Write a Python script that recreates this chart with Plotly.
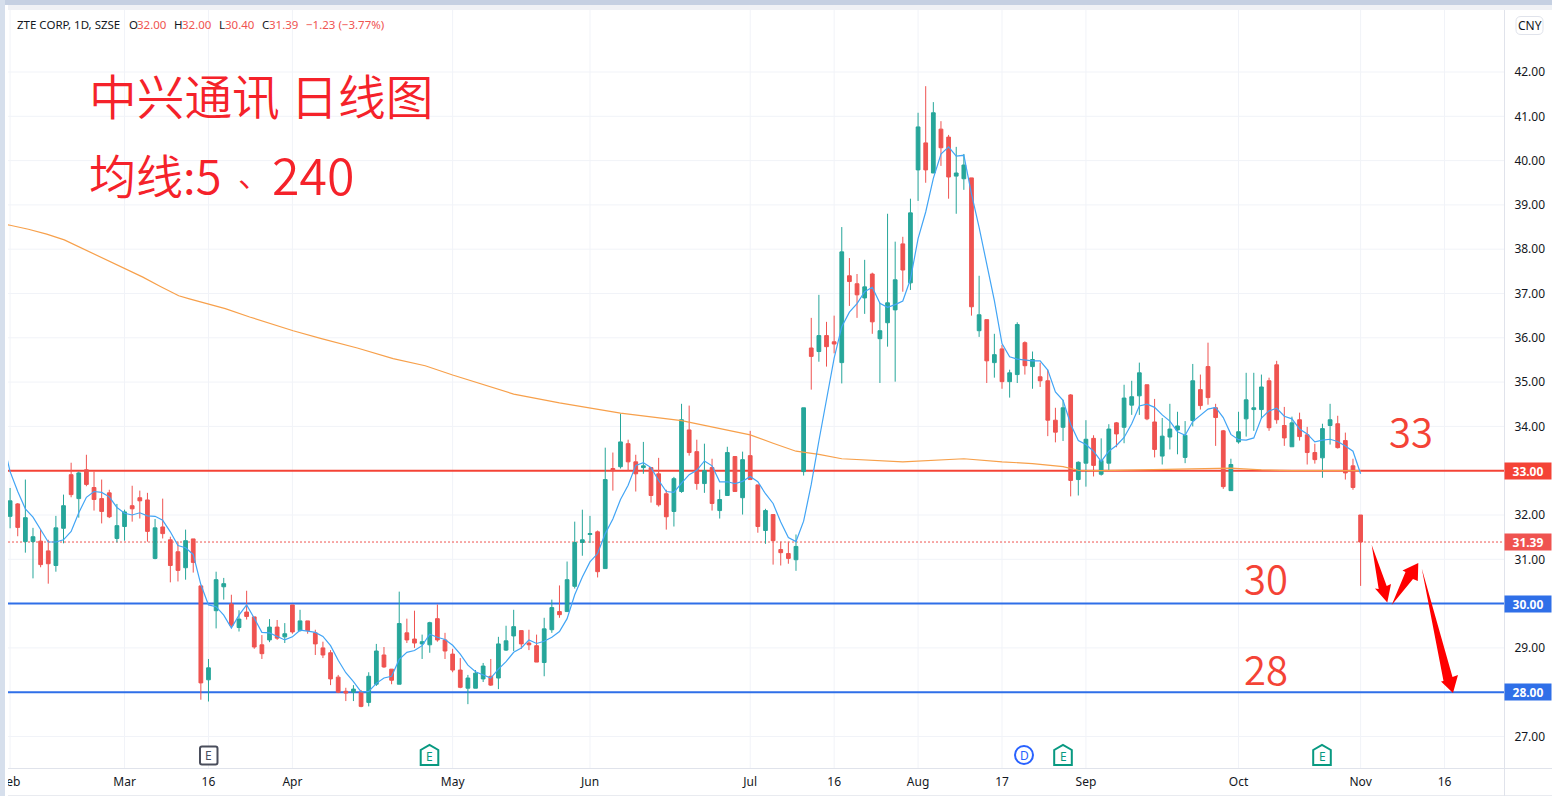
import plotly.graph_objects as go

W, H = 1552, 796
L, R, T, B = 8, 1504, 10, 769
X0, DX = 10.1, 7.63      # pixel of first candle, pixels per session
Y42, DY = 72.0, 44.3     # pixel of price 42, pixels per unit

opens = [31.97,32.25,31.40,31.40,31.41,31.19,30.86,31.70,32.91,32.37,
33.02,32.62,32.37,32.50,31.47,31.74,32.21,32.39,32.34,31.02,
31.73,31.44,31.17,30.81,31.46,30.40,28.28,29.84,30.38,29.99,
29.46,29.81,29.70,29.07,29.18,29.47,29.25,29.97,29.39,29.61,
29.34,29.00,28.89,28.34,28.02,28.00,28.00,27.77,28.18,28.84,
28.52,28.18,29.34,29.20,29.09,29.07,29.66,29.18,28.86,28.50,
28.09,28.09,28.30,28.36,28.32,28.95,29.27,29.39,29.11,29.05,
28.67,29.41,29.82,29.82,30.39,31.38,31.56,31.62,30.79,33.05,
33.09,33.61,33.20,33.07,33.07,32.93,32.48,32.08,32.53,33.92,
33.43,32.71,33.07,32.10,32.44,33.32,32.39,33.34,32.68,31.65,
32.01,31.22,31.13,30.99,32.98,35.77,35.69,36.05,35.91,35.44,
37.40,37.22,36.90,37.44,35.98,36.34,36.63,38.12,37.24,39.79,
40.40,39.72,40.71,40.53,39.65,39.59,39.61,36.16,36.41,35.44,
35.75,35.01,35.17,35.89,35.35,35.12,35.03,34.14,33.98,34.71,
32.80,33.17,33.73,32.92,33.17,34.08,33.98,34.48,34.69,34.94,
34.10,33.33,33.76,33.92,33.30,34.13,34.83,35.35,34.42,33.90,
32.55,33.65,34.17,34.38,34.38,35.03,35.39,34.02,33.54,34.15,
33.81,33.41,33.29,34.02,34.06,33.68,33.11,32.00]
highs = [32.61,32.27,32.80,31.71,31.67,31.44,31.98,32.46,33.18,32.98,
33.36,32.98,32.80,32.57,32.25,32.12,32.66,32.55,32.50,31.91,
32.37,31.51,31.40,31.67,31.46,30.40,28.75,30.72,30.58,30.20,
29.85,30.29,29.70,29.29,29.65,29.63,29.56,29.97,29.86,29.61,
29.41,29.14,28.95,28.39,28.10,28.16,28.05,28.45,29.09,29.02,
28.52,30.27,29.66,29.84,29.30,29.59,29.98,29.34,28.98,28.77,
28.39,28.50,28.66,28.75,29.25,29.50,29.86,29.39,29.41,29.30,
29.68,30.09,30.41,30.95,31.85,32.12,31.98,31.65,33.52,33.41,
34.29,33.70,33.36,33.65,33.07,33.29,32.57,32.86,34.51,34.47,
33.70,33.61,33.27,32.57,33.54,33.32,33.43,33.90,32.68,32.14,
32.01,31.40,31.40,31.56,34.42,36.45,36.97,36.36,36.50,38.50,
37.80,37.44,37.76,37.47,36.79,38.80,38.17,38.28,39.14,41.08,
41.68,41.32,40.89,40.58,40.31,40.15,39.61,37.40,36.41,36.09,
35.84,35.28,36.35,35.92,35.69,35.44,35.28,34.42,34.60,34.73,
33.21,34.14,33.80,33.73,34.05,34.10,34.94,35.03,35.44,34.94,
34.62,34.19,34.51,34.33,34.12,35.41,35.17,35.89,34.51,33.92,
33.27,34.33,35.21,35.21,35.17,35.10,35.48,34.44,34.22,34.31,
33.99,33.61,34.06,34.51,34.24,33.86,33.27,32.00]
lows = [31.70,31.52,31.15,30.57,30.82,30.45,30.72,31.36,32.40,31.94,
32.65,32.10,31.81,31.93,31.38,31.42,31.85,31.92,31.40,31.00,
31.47,30.48,30.50,30.54,30.70,27.83,27.79,29.44,30.09,29.47,
29.37,29.64,28.98,28.75,29.13,29.18,29.11,29.32,29.37,29.32,
28.84,28.77,28.16,27.98,27.80,27.80,27.66,27.68,28.14,28.55,
28.18,28.18,29.11,29.00,28.75,28.89,29.14,28.75,28.45,28.09,
27.73,28.09,28.23,28.14,28.07,28.93,28.93,28.98,28.95,28.68,
28.36,29.34,29.68,29.82,30.34,31.08,31.37,30.59,30.79,32.55,
33.05,33.00,32.53,32.93,32.28,32.19,31.67,31.74,32.50,33.34,
32.57,32.50,32.10,31.92,32.44,32.53,32.01,32.80,31.60,31.35,
30.88,30.86,30.90,30.74,32.89,34.83,35.46,35.35,35.65,34.97,
36.72,36.45,36.54,36.09,34.98,35.80,35.01,37.04,37.08,39.09,
39.50,39.72,39.88,39.14,38.80,39.34,36.50,36.02,34.98,35.10,
34.85,34.65,34.98,35.17,34.85,34.89,33.78,33.64,33.67,32.42,
32.44,32.64,32.87,32.89,33.01,33.53,33.62,34.26,34.26,34.14,
33.30,33.14,33.48,33.37,33.17,34.00,34.38,34.49,33.56,32.59,
32.55,33.61,33.77,33.90,34.17,33.90,34.06,33.56,33.54,33.68,
33.14,33.16,32.84,33.59,33.50,32.80,32.57,30.40]
closes = [32.32,31.72,31.94,31.51,30.88,30.90,31.71,32.21,32.46,32.95,
32.69,32.35,32.08,31.96,31.76,32.07,32.14,32.32,31.63,31.71,
31.58,30.86,30.75,31.42,30.93,28.21,28.55,30.54,30.45,29.51,
29.65,29.71,29.02,28.87,29.47,29.22,29.32,29.36,29.61,29.39,
29.09,28.84,28.30,28.00,27.98,28.07,27.68,28.36,28.93,28.57,
28.27,29.55,29.18,29.11,29.14,29.57,29.18,28.93,28.50,28.11,
28.32,28.43,28.59,28.16,29.09,29.16,29.48,29.09,29.07,28.68,
29.43,29.91,29.75,30.54,31.38,31.44,31.58,30.72,32.80,33.00,
33.65,33.20,32.93,33.11,32.44,32.23,31.96,32.82,34.15,33.41,
32.71,33.00,32.26,32.35,33.41,32.53,33.25,32.80,31.74,32.10,
31.42,31.15,31.02,31.29,34.42,35.58,36.05,35.80,35.86,37.94,
37.27,36.97,37.15,36.36,36.16,36.79,37.31,37.53,38.82,40.76,
39.79,41.08,40.29,39.63,39.72,39.90,36.70,36.52,35.48,35.62,
35.01,35.21,36.30,35.37,35.51,35.03,34.14,33.87,34.42,32.78,
33.19,33.71,33.12,33.23,33.94,33.83,34.64,34.67,35.21,34.17,
33.48,33.78,33.94,34.01,33.80,35.03,34.47,34.65,34.20,32.64,
33.14,33.88,34.60,34.42,34.89,33.97,34.15,33.74,34.08,33.77,
33.41,33.25,33.95,34.15,33.52,32.95,32.62,31.39]

ma5 = [32.98,32.53,32.14,31.95,31.67,31.39,31.39,31.44,31.63,32.05,
32.40,32.53,32.51,32.41,32.17,32.04,32.00,32.05,31.98,31.97,
31.88,31.62,31.31,31.26,31.11,30.43,29.97,29.93,29.74,29.45,
29.74,29.97,29.67,29.35,29.34,29.26,29.18,29.25,29.40,29.38,
29.35,29.26,29.05,28.72,28.44,28.24,28.01,28.02,28.20,28.32,
28.36,28.74,28.90,28.94,29.05,29.31,29.24,29.19,29.06,28.86,
28.61,28.46,28.39,28.32,28.52,28.69,28.90,29.00,29.18,29.10,
29.15,29.24,29.37,29.66,30.20,30.60,30.94,31.13,31.58,31.91,
32.35,32.67,33.12,33.18,33.07,32.78,32.53,32.51,32.72,32.91,
33.01,33.22,33.11,32.75,32.75,32.71,32.76,32.87,32.75,32.48,
32.26,31.84,31.49,31.40,31.86,32.69,33.67,34.63,35.54,36.25,
36.58,36.77,37.04,37.14,36.78,36.69,36.75,36.83,37.32,38.24,
38.84,39.60,40.15,40.31,40.10,40.12,39.25,38.49,37.66,36.84,
35.87,35.57,35.52,35.50,35.48,35.48,35.27,34.78,34.59,34.05,
33.68,33.59,33.44,33.21,33.44,33.57,33.75,34.06,34.46,34.50,
34.43,34.26,34.12,33.88,33.80,34.11,34.25,34.39,34.43,34.20,
33.82,33.70,33.69,33.74,34.19,34.35,34.41,34.23,34.17,33.94,
33.83,33.65,33.69,33.71,33.66,33.56,33.44,32.93]
ma5_before = 33.71  # value one session before the first visible candle

ma240_idx = [-1,0,2.4,4.8,7.1,9.4,12,15.1,17.4,19.7,22.1,23.5,26,28.2,31.4,34.2,37.1,40.8,45.5,50.2,54.4,58,61.4,66,72,
             80,88,97,100,103,106,109,117,125,130,134,138,140,143,149,156,160,164,168,175,177]
ma240_val = [38.57,38.54,38.45,38.34,38.21,38.02,37.82,37.55,37.37,37.16,36.95,36.88,36.76,36.66,36.47,36.31,36.16,35.98,35.77,35.53,35.37,35.16,34.97,34.73,34.53,
             34.30,34.13,33.81,33.62,33.44,33.37,33.27,33.20,33.27,33.20,33.16,33.09,33.01,33.00,33.02,33.05,33.06,33.02,33.00,33.00,33.00]

x_tick_idx = [0,15,26,37,58,76,97,108,119,130,141,161,177,188]
x_tick_txt = ["Feb","Mar","16","Apr","May","Jun","Jul","16","Aug","17","Sep","Oct","Nov","16"]
y_ticks = list(range(27,43))

level_33 = 33.0
level_30 = 30.0
level_28 = 28.0
last_close = 31.39

UP, DOWN = "#26a69a", "#ef5350"
RED_LINE, BLUE_LINE = "#f44336", "#2f6fe8"
GRID, EDGE = "#f1f3f8", "#e0e3eb"
TXT = "#131722"
UI = "Noto Sans"

def px(x): return (x - L) / (R - L)
def py(y): return (B - y) / (B - T)

def poly(points, **kw):
    d = "M " + " L ".join(f"{px(a):.5f},{py(b):.5f}" for a, b in points) + " Z"
    return dict(type="path", xref="paper", yref="paper", path=d, **kw)

def rounded(x0, y0, x1, y1, r, **kw):
    def P(a, b): return f"{px(a):.5f},{py(b):.5f}"
    d = (f"M {P(x0+r,y0)} L {P(x1-r,y0)} Q {P(x1,y0)} {P(x1,y0+r)} L {P(x1,y1-r)} Q {P(x1,y1)} {P(x1-r,y1)} "
         f"L {P(x0+r,y1)} Q {P(x0,y1)} {P(x0,y1-r)} L {P(x0,y0+r)} Q {P(x0,y0)} {P(x0+r,y0)} Z")
    return dict(type="path", xref="paper", yref="paper", path=d, **kw)

def rect(x0, y0, x1, y1, color, layer="above"):
    return dict(type="rect", xref="paper", yref="paper", x0=px(x0), x1=px(x1), y0=py(y0), y1=py(y1),
                fillcolor=color, line_width=0, layer=layer)

fig = go.Figure()
xs = list(range(len(closes)))
fig.add_trace(go.Candlestick(x=xs, open=opens, high=highs, low=lows, close=closes,
    increasing=dict(line=dict(color=UP, width=1), fillcolor=UP),
    decreasing=dict(line=dict(color=DOWN, width=1), fillcolor=DOWN),
    whiskerwidth=0, hoverinfo="skip", showlegend=False))
fig.add_trace(go.Scatter(x=ma240_idx, y=ma240_val, mode="lines", line=dict(color="#f7a04b", width=1.2),
    hoverinfo="skip", showlegend=False))
fig.add_trace(go.Scatter(x=[-1] + xs, y=[ma5_before] + ma5, mode="lines", line=dict(color="#42a5f5", width=1.2),
    hoverinfo="skip", showlegend=False))

shapes = []
for v in y_ticks:
    shapes.append(dict(type="line", xref="paper", yref="y", x0=0, x1=1, y0=v, y1=v,
                       line=dict(color=GRID, width=1), layer="below"))
for v in x_tick_idx:
    shapes.append(dict(type="line", xref="x", yref="paper", x0=v, x1=v, y0=0, y1=1,
                       line=dict(color=GRID, width=1), layer="below"))
for lvl, col in [(level_33, RED_LINE), (level_30, BLUE_LINE), (level_28, BLUE_LINE)]:
    shapes.append(dict(type="line", xref="paper", yref="y", x0=0, x1=1, y0=lvl, y1=lvl,
                       line=dict(color=col, width=2), layer="below"))
shapes.append(dict(type="line", xref="paper", yref="y", x0=0, x1=1, y0=last_close, y1=last_close,
                   line=dict(color=DOWN, width=1, dash="2px,2px"), layer="below"))

# window chrome
shapes += [rect(0, 0, W, 5, "#c5d0e2"), rect(0, 5, W, 10, "#eff1f5"), rect(0, 0, 5, H, "#d6dfec"),
           rect(5, 5, 8, H, "#ffffff"), rect(8, 795, W, 796, "#e9ebf0"),
           rect(8, 768, W, 769, EDGE), rect(1504, 10, 1505, 796, EDGE)]

RED_ARROW = "#ff0000"
arrows = [
    [(1371.7,545), (1386.7,586), (1391,584), (1387.3,602.5), (1375,588.5), (1378.7,589)],
    [(1391.7,605), (1413,579), (1417.8,581), (1418.3,563), (1402.5,570.5), (1405.5,572)],
    [(1421.7,568.3), (1452.5,677), (1458,675), (1453,693), (1441,681.5), (1443.5,681)],
]
for a in arrows:
    shapes.append(poly(a, fillcolor=RED_ARROW, line_width=0, layer="above"))

# event markers
GREEN_MK, GREY_MK, BLUE_MK = "#089981", "#4a4e5c", "#2962ff"
def house(cx):
    return poly([(cx-8.8,765), (cx-8.8,750), (cx,745), (cx+8.8,750), (cx+8.8,765)],
                fillcolor="#ffffff", line=dict(color=GREEN_MK, width=2), layer="above")
shapes += [house(429.5), house(1063), house(1322)]
shapes.append(rounded(200, 746.5, 217.5, 764.5, 2, fillcolor="#ffffff", line=dict(color=GREY_MK, width=2), layer="above"))
shapes.append(dict(type="circle", xref="paper", yref="paper", x0=px(1015), x1=px(1033), y0=py(746), y1=py(764),
                   fillcolor="#ffffff", line=dict(color=BLUE_MK, width=2), layer="above"))
shapes.append(rounded(1516, 16.5, 1543, 34.5, 5, fillcolor="#ffffff", line=dict(color=EDGE, width=1), layer="above"))

def note(text, x, y, size=11.5, color=TXT, family=UI, anchor="left", weight=None):
    f = dict(size=size, color=color, family=family)
    if weight:
        f["weight"] = weight
    return dict(text=text, xref="paper", yref="paper", x=px(x), y=py(y), xanchor=anchor, yanchor="middle",
                showarrow=False, font=f, borderpad=0)

anns = [
    note("ZTE CORP, 1D, SZSE", 15.5, 24.5),
    note("O", 127.5, 24.5), note("32.00", 136, 24.5, color=DOWN),
    note("H", 172.5, 24.5), note("32.00", 181, 24.5, color=DOWN),
    note("L", 217.5, 24.5), note("30.40", 224, 24.5, color=DOWN),
    note("C", 260.5, 24.5), note("31.39", 268, 24.5, color=DOWN),
    note("−1.23 (−3.77%)", 305, 24.5, color=DOWN),
    note("CNY", 1529.5, 25.5, anchor="center", size=12),
    note("E", 208.7, 755.5, color=GREY_MK, anchor="center", size=12),
    note("E", 429.5, 756, color=GREEN_MK, anchor="center", size=12),
    note("E", 1063, 756, color=GREEN_MK, anchor="center", size=12),
    note("E", 1322, 756, color=GREEN_MK, anchor="center", size=12),
    note("D", 1024, 755.5, color=BLUE_MK, anchor="center", size=12),
]
CJK = "Noto Sans CJK SC"
TITLE_RED = "#f5222a"
anns += [
    note("中兴通讯 日线图", 87.5, 95, size=47.7, color=TITLE_RED, family=CJK, weight=350),
    note("均线:5", 88, 173, size=47, color=TITLE_RED, family=CJK, weight=350),
    note("、", 237, 173, size=32, color=TITLE_RED, family=CJK, weight=350),
    note("240", 271, 173, size=50, color=TITLE_RED, family=CJK, weight=350),
    note("33", 1411, 429.5, size=40, color=RED_LINE, family=CJK, anchor="center", weight=350),
    note("30", 1266, 576.5, size=40, color=RED_LINE, family=CJK, anchor="center", weight=350),
    note("28", 1266, 667.5, size=40, color=RED_LINE, family=CJK, anchor="center", weight=350),
]
for lvl, col in [(level_33, RED_LINE), (last_close, DOWN), (level_30, BLUE_LINE), (level_28, BLUE_LINE)]:
    anns.append(dict(text=f"<b>{lvl:.2f}</b>", xref="paper", yref="y", x=px(1504), y=lvl, xanchor="left", yanchor="middle",
                     showarrow=False, width=46, height=16, align="center", bgcolor=col,
                     font=dict(size=12, color="#ffffff", family=UI), borderpad=0))

fig.update_layout(
    width=W, height=H, autosize=False,
    margin=dict(l=L, r=W-R, t=T, b=H-B, autoexpand=False),
    paper_bgcolor="#ffffff", plot_bgcolor="#ffffff",
    showlegend=False, shapes=shapes, annotations=anns,
    font=dict(family=UI, color=TXT, size=12),
    xaxis=dict(type="linear", range=[(L-X0)/DX, (R-X0)/DX], rangeslider=dict(visible=False),
               tickmode="array", tickvals=x_tick_idx, ticktext=x_tick_txt, tickangle=0,
               ticklabeloverflow="allow",
               showgrid=False, zeroline=False, showline=False,
               ticks="outside", ticklen=2, tickcolor="rgba(0,0,0,0)", tickfont=dict(size=12, color=TXT, family=UI)),
    yaxis=dict(side="right", range=[42-(B-Y42)/DY, 42+(Y42-T)/DY],
               tickmode="array", tickvals=y_ticks, ticktext=[f"{v:.2f}" for v in y_ticks],
               showgrid=False, zeroline=False, showline=False,
               ticks="outside", ticklen=7, tickcolor="rgba(0,0,0,0)", tickfont=dict(size=12, color=TXT, family=UI)),
)
fig.write_html("out.html", config=dict(displayModeBar=False),
               post_script="document.body.style.margin='0';document.body.style.overflow='hidden';")
